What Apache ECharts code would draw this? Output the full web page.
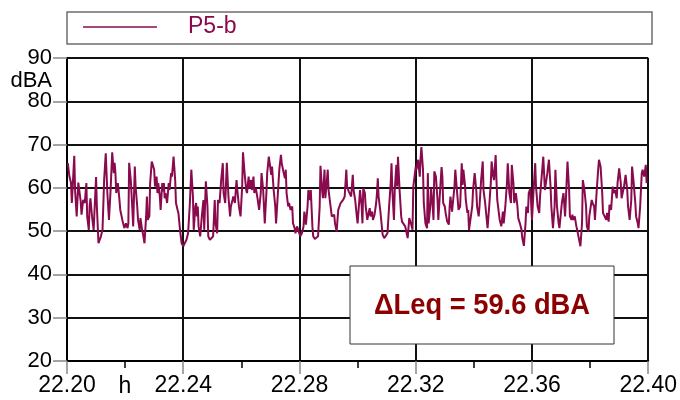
<!DOCTYPE html>
<html><head><meta charset="utf-8">
<script src="https://cdn.jsdelivr.net/npm/echarts@6/dist/echarts.min.js"></script>
<style>html,body{margin:0;padding:0;background:#fff}#c{width:680px;height:400px}</style>
</head><body><div id="c"></div>
<script>
const seriesName = 'P5-b';
const yUnit = 'dBA';
const xUnit = 'h';
const annotation = '\u0394Leq = 59.6 dBA';
const xTickLabels = ['22.20', '22.24', '22.28', '22.32', '22.36', '22.40'];
// seconds after 22.20 h (0 .. 720 s = 0.2 h)
const seconds = [
  1,3,4,5,6,9,10,12,14,16, 17,18,20,22,24,25,27,28,29,31, 33,36,37,39,42,44,46,48,50,52,
  54,56,58,59,60,61,63,65,66,69, 71,73,75,76,77,79,81,82,84,85, 87,88,90,91,93,94,96,98,99,100,
  102,103,105,106,108,109,111,112,113,115, 116,118,119,120,121,122,124,126,127,129, 130,132,134,135,137,138,140,142,
  144,146,148,150,152,154,156,157,159,160, 161,162,163,165,167,169,170,172,174,175,
  177,179,181,183,184,186,187,189,191,193, 194,196,198,200,202,203,205,206,208,210,
  211,213,215,217,218,220,222,223,225,226, 228,229,231,232,234,236,238,240,241,243,
  245,247,248,250,251,253,254,256,258,259, 261,263,265,266,268,270,271,272,274,275,
  277,279,280,282,283,285,287,
  289,291,293,294,296,298,299,300,301,302, 304,305,307,309,311,313,314,316,317,319,
  320,322,323,324,326,328,329,331,332,334, 336,338,339,341,342,344,346,347,349,351,
  352,354,355,357,359,360,362,363,365,366, 367,369,370,372,374,375,376,378,379,381,
  383,384,385,386,388,390,391,393,395,397, 399,401,402,403,405,406,408,409,410,412,
  414,415,417,419,420,422,424,425,426,428, 429,431,
  432,433,435,437,438,439,441,442,444,446, 447,448,450,451,453,454,455,457,459,460,
  462,464,465,466,468,469,471,473,474,475, 477,478,480,481,483,484,485,487,489,490,
  491,493,494,496,497,498,500,502,503,505, 507,508,510,511,513,515,516,518,520,521,
  523,525,526,528,529,531,532,533,535,536, 538,540,541,543,545,546,548,550,551,553,
  554,556,558,559,561,563,564,566,568,569, 571,572,574,576,
  578,580,581,583,585,586,588,590,592,594, 595,597,599,600,602,604,605,607,609,610,
  612,613,615,617,618,620,622,623,625,626, 627,629,631,632,634,636,638,639,641,643,
  644,646,647,650,651,653,654,656,658,659, 661,663,664,666,668,669,671,672,674,676,
  677,679,681,682,684,686,687,689,690,692, 694,695,697,699,700,702,704,705,707,708,
  710,712,713,715,717,718
];
// sound level, dBA
const levels = [
  65.7,62.6,63.0,61.1,56.5,67.4,59.5,53.4,61.2,61.1, 56.8,53.8,57.2,56.5,61.1,53.4,50.3,55.7,57.6,53.4, 50.3,62.5,55.7,47.2,48.8,50.3,61.8,68.0,58.8,52.6,
  59.5,68.2,63.4,65.8,63.4,58.8,61.1,57.2,54.9,52.2, 50.7,51.8,50.7,51.8,65.8,61.8,54.9,51.1,64.9,60.3, 55.7,52.6,50.3,53.0,50.3,49.5,47.2,53.4,58.0,52.6,
  53.4,61.1,66.1,66.5,64.2,60.3,62.6,58.8,61.1,58.0, 54.9,61.1,59.2,61.1,57.6,58.8,56.5,61.1,59.5,63.4, 62.6,67.2,61.8,56.5,54.9,54.2,50.3,47.2,
  46.5,46.1,48.0,49.5,55.7,64.2,58.0,50.3,55.7,56.5, 53.4,55.7,51.1,48.8,53.4,57.2,50.3,61.5,55.7,48.8,
  48.0,47.6,48.8,57.2,51.8,49.5,57.2,56.5,61.8,65.7, 58.8,56.5,65.8,58.0,53.4,55.7,57.2,58.0,56.5,61.8,
  59.5,55.7,53.4,60.3,68.2,63.4,59.5,58.8,62.6,59.9, 61.8,59.5,62.6,58.8,59.9,57.6,54.9,58.8,63.4,59.5,
  51.8,58.8,63.4,67.2,66.8,63.0,64.9,59.5,55.7,51.8, 58.0,64.2,67.6,65.7,63.8,62.2,64.2,58.8,55.7,56.5,
  54.9,55.7,51.8,50.7,49.5,51.1,50.7,
  48.8,49.5,51.1,54.5,51.5,55.7,59.5,59.9,57.2,59.5, 51.1,48.8,48.2,48.0,48.8,55.7,65.1,59.5,57.6,64.2,
  57.6,61.8,64.2,59.5,56.5,53.4,53.0,53.8,51.8,49.9, 54.9,54.9,56.5,56.1,57.2,58.0,64.2,60.3,59.2,59.5,
  58.0,63.0,59.5,57.2,53.4,51.8,56.9,59.5,55.7,51.8, 59.9,58.8,55.7,52.6,54.5,55.3,53.4,54.5,52.6,53.8,
  56.5,58.8,62.2,58.0,54.9,51.1,49.2,48.4,48.4,49.5, 55.7,61.1,65.7,59.5,52.6,59.5,65.3,60.3,67.2,59.5,
  53.4,52.2,52.6,51.1,51.5,48.4,53.0,53.4,51.8,50.3, 60.3,59.9,
  64.9,64.2,66.5,62.6,66.8,69.4,64.2,56.5,51.8,50.7, 63.4,51.8,55.7,59.9,55.7,52.6,63.8,62.6,57.2,52.6,
  58.8,64.8,62.6,56.5,55.7,54.2,52.2,51.5,55.7,58.0, 54.5,56.5,60.3,64.2,59.5,59.5,54.9,55.7,65.7,60.7,
  64.2,60.7,57.2,54.2,54.9,50.3,53.0,55.7,59.5,63.4, 59.5,55.7,53.4,55.7,61.8,66.1,59.5,56.5,52.6,50.7,
  55.7,61.1,66.1,62.6,61.8,67.6,61.8,57.2,56.8,52.6, 51.1,54.5,51.8,55.7,61.1,65.7,58.8,56.5,65.3,61.1,
  56.5,58.8,55.7,53.0,51.8,50.3,48.4,46.6,51.8,55.7, 54.2,58.8,59.9,52.6,
  59.5,65.7,60.3,55.7,54.2,58.0,62.6,67.2,59.5,59.2, 63.4,66.5,60.3,55.7,50.7,55.7,64.2,55.7,51.8,50.7,
  50.3,56.5,58.8,53.4,57.2,66.1,59.5,53.4,52.6,53.8, 52.6,53.4,51.1,50.3,48.4,46.5,51.8,61.8,59.5,55.7,
  51.1,49.9,53.4,57.2,56.5,55.7,52.6,58.8,64.2,66.5, 64.9,58.8,54.2,53.4,52.6,54.2,52.2,56.1,54.9,60.3,
  58.8,59.5,57.6,61.1,64.5,61.1,57.6,58.0,60.3,63.0, 59.5,55.7,52.6,57.2,64.9,61.1,56.5,53.4,51.8,50.7,
  55.7,63.4,64.2,62.6,65.3,61.1
];

const n = Math.min(seconds.length, levels.length);
const data = [];
for (let i = 0; i < n; i++) data.push([seconds[i], levels[i]]);

const LINE = '#8a0a4e';
const FONT = "'Liberation Sans', Arial, Helvetica, sans-serif";
const chart = echarts.init(document.getElementById('c'), null, {renderer: 'canvas'});
chart.setOption({
  animation: false,
  backgroundColor: '#fff',
  grid: {left: 67, right: 28, top: 58, bottom: 39, containLabel: false},
  legend: {
    data: [{name: seriesName, icon: 'rect'}], left: 83, top: 15, padding: 0,
    itemWidth: 74, itemHeight: 1.5,
    itemStyle: {color: LINE, borderWidth: 0},
    textStyle: {fontSize: 23, color: LINE, fontFamily: FONT, padding: [0, 0, 0, 26], lineHeight: 24}
  },
  xAxis: {
    type: 'value', min: 0, max: 720, interval: 144,
    axisLine: {show: true, onZero: false, lineStyle: {color: '#000', width: 2}},
    axisTick: {show: true, length: 13, lineStyle: {color: '#888', width: 1.5}},
    minorTick: {show: true, splitNumber: 2, length: 7, lineStyle: {color: '#000', width: 1.5}},
    splitLine: {show: true, lineStyle: {color: '#111', width: 2}},
    axisLabel: {
      fontSize: 23, color: '#000', fontFamily: FONT, margin: 13,
      formatter: v => xTickLabels[Math.round(v / 144)]
    }
  },
  yAxis: {
    type: 'value', min: 20, max: 90, interval: 10,
    axisLine: {show: true, onZero: false, lineStyle: {color: '#000', width: 2}},
    axisTick: {show: true, length: 14, lineStyle: {color: '#888', width: 1.5}},
    splitLine: {show: true, lineStyle: {color: '#111', width: 2}},
    axisLabel: {fontSize: 22, color: '#000', fontFamily: FONT, margin: 15}
  },
  series: [{
    name: seriesName, type: 'line', data: data, symbol: 'none', showSymbol: false,
    lineStyle: {color: LINE, width: 2}, itemStyle: {color: LINE}, clip: true, z: 5
  }],
  graphic: [
    {type: 'rect', shape: {x: 67, y: 12, width: 585, height: 32},
     style: {fill: 'none', stroke: '#6e6e6e', lineWidth: 1.5}, z: 1},
    {type: 'text', x: 52, y: 81,
     style: {text: yUnit, font: '22px ' + FONT, fill: '#000', textAlign: 'right', textVerticalAlign: 'middle'}},
    {type: 'text', x: 125, y: 387,
     style: {text: xUnit, font: '23px ' + FONT, fill: '#000', textAlign: 'center', textVerticalAlign: 'middle'}},
    {type: 'rect', shape: {x: 350, y: 266, width: 264, height: 78},
     style: {fill: '#fff', stroke: '#333', lineWidth: 1}, z: 10},
    {type: 'text', x: 482, y: 306, z: 11, scaleX: 0.91,
     style: {text: annotation, font: "bold 30px 'Liberation Sans', Arial, sans-serif",
             fill: '#8b0000', textAlign: 'center', textVerticalAlign: 'middle'}}
  ]
});
</script></body></html>
